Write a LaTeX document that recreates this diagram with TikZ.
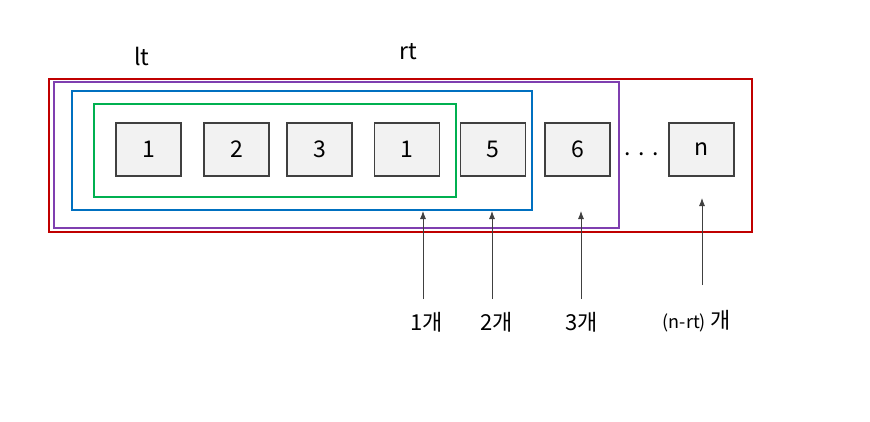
\documentclass[tikz,border=0pt]{standalone}
\usepackage{fontspec}
\setmainfont{Noto Sans CJK KR}
\usetikzlibrary{arrows.meta}
\definecolor{cred}{HTML}{C00000}
\definecolor{cpurple}{HTML}{7F3FB0}
\definecolor{cblue}{HTML}{0070C0}
\definecolor{cgreen}{HTML}{00B050}
\definecolor{cboxfill}{HTML}{F2F2F2}
\definecolor{cboxline}{HTML}{404040}
\begin{document}
\begin{tikzpicture}[x=1pt,y=-1pt,
  frame/.style={line width=1.6pt},
  cell/.style={draw=cboxline,fill=cboxfill,line width=1.2pt,minimum width=65pt,minimum height=53pt,inner sep=0pt,font=\fontsize{23}{27}\selectfont},
  lbl/.style={inner sep=0pt,font=\fontsize{23}{27}\selectfont},
  cnt/.style={inner sep=0pt,font=\fontsize{22}{26}\selectfont},
  ptr/.style={draw=black!75,line width=0.8pt,-{Latex[length=8pt,width=6pt]}}]
\useasboundingbox (0,0) rectangle (870,421);
% frames
\draw[frame,cred] (49,79) rectangle (752,232);
\draw[frame,cpurple] (54,82) rectangle (619,228);
\draw[frame,cblue] (72,91) rectangle (532,210);
\draw[frame,cgreen] (94,104) rectangle (456,197);
% cells
\node[cell] (c1) at (148.5,149.5) {1};
\node[cell] (c2) at (236.5,149.5) {2};
\node[cell] (c3) at (319.5,149.5) {3};
\node[cell] (c4) at (407,149.5) {1};
\node[cell] (c5) at (493,149.5) {5};
\node[cell] (c6) at (577.5,149.5) {6};
\node[cell] (cn) at (701.5,149.5) {n};
\node[lbl] (dots) at (642,154) {.\,\,.\,\,.};
% labels
\node[lbl] (lt) at (142,56) {lt};
\node[lbl] (rt) at (408,52) {rt};
% pointers
\coordinate (t1) at (423,211);
\coordinate (t2) at (492,211);
\coordinate (t3) at (581,211);
\coordinate (tn) at (702,198);
\coordinate (b1) at (423,299);
\coordinate (b2) at (492,299);
\coordinate (b3) at (581,299);
\coordinate (bn) at (702,285);
\draw[ptr] (b1) -- (t1);
\draw[ptr] (b2) -- (t2);
\draw[ptr] (b3) -- (t3);
\draw[ptr] (bn) -- (tn);
\node[cnt] (n1) at (427,322) {1개};
\node[cnt] (n2) at (497,322) {2개};
\node[cnt] (n3) at (582,322) {3개};
\node[cnt] (nn) at (697,321) {{\fontsize{18}{22}\selectfont (n-rt)} 개};
\end{tikzpicture}
\end{document}
